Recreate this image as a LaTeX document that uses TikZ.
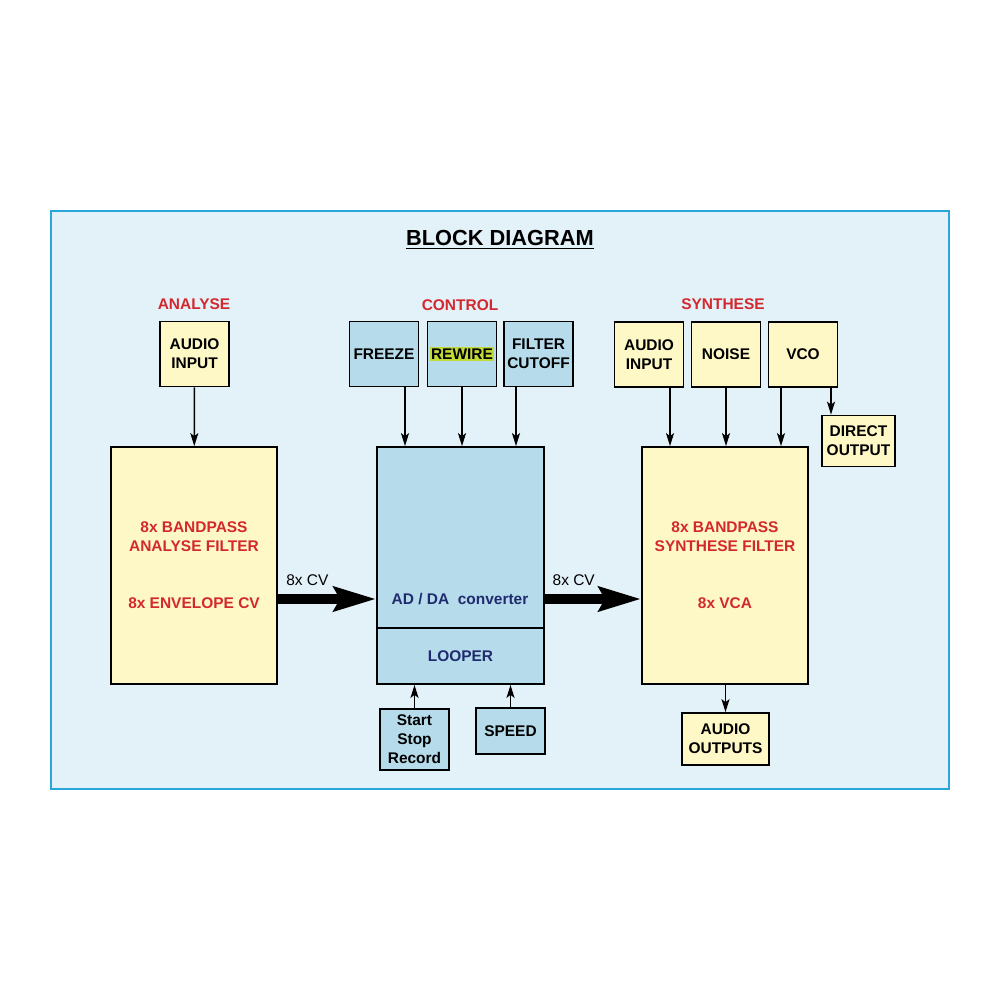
\documentclass[tikz,border=0pt]{standalone}
\usepackage{fontspec}
\setmainfont{Liberation Sans}
\usetikzlibrary{arrows.meta,positioning}

\definecolor{panel}{HTML}{E3F1F8}
\definecolor{frameblue}{HTML}{2AA7DA}
\definecolor{boxyellow}{HTML}{FEF8C6}
\definecolor{boxblue}{HTML}{B6DCEB}
\definecolor{labred}{HTML}{D3282E}
\definecolor{navy}{HTML}{1F2B6E}
\definecolor{rewiregreen}{HTML}{C2DA38}

\begin{document}
\begin{tikzpicture}[
  x=0.2mm, y=-0.2mm,
  >=Latex,
  every node/.style={font=\bfseries\fontsize{8.8}{10.8}\selectfont},
  ybox/.style={draw, line width=1pt, fill=boxyellow, align=center, inner sep=0pt},
  bbox/.style={draw, line width=1pt, fill=boxblue, align=center, inner sep=0pt},
  small/.style={minimum width=13.8mm, minimum height=13mm},
  big/.style={minimum width=33.2mm, minimum height=47.4mm, text=labred},
  grp/.style={text=labred},
  arrow/.style={-{Stealth[length=2.6mm, width=1.6mm, inset=0.6mm]}, line width=0.8pt},
  fat/.style={-{Stealth[length=8.4mm, width=4.8mm, inset=1.2mm]}, line width=1.9mm},
  cvlab/.style={pos=0.3, above=1.7mm, inner sep=0pt, font=\fontsize{8.8}{10}\selectfont}
]
  %--- panel
  \useasboundingbox (0,0) rectangle (1000,1000);
  \draw[frameblue, line width=1pt, fill=panel] (51,211) rectangle (949,789);
  \node[font=\bfseries\fontsize{12.4}{14}\selectfont] (title) at (500,240) {\underline{BLOCK DIAGRAM}};

  %============ ANALYSE ============%
  \node[grp] (analyse) at (194,304) {ANALYSE};
  \node[ybox, small] (ain) at (194.5,354) {AUDIO\\INPUT};
  \node[ybox, big] (afilt) at (194,565.5) {8x BANDPASS\\ANALYSE FILTER\\[7.6mm]8x ENVELOPE CV};
  \draw[arrow] (ain) -- (afilt);

  %============ CONTROL ============%
  \node[grp] (control) at (460,305) {CONTROL};
  \node[bbox, small] (freeze) at (384,354) {FREEZE};
  \node[bbox, small] (rewire) at (462,354) {\setlength\fboxsep{0.8pt}\colorbox{rewiregreen}{REWIRE}};
  \node[bbox, small] (cutoff) at (538.5,354) {FILTER\\CUTOFF};
  \node[bbox, minimum width=33.4mm, minimum height=36.2mm] (conv) at (460.5,537.5) {};
  \node[bbox, minimum width=33.4mm, minimum height=11.2mm, text=navy, below=-1pt of conv] (looper) {LOOPER};
  \node[text=navy] (adda) at (460,599) {AD / DA\ \ converter};
  \node[bbox, minimum width=13.8mm, minimum height=12.2mm] (ssr) at (414.5,739.5) {Start\\Stop\\Record};
  \node[bbox, minimum width=13.8mm, minimum height=9.2mm] (speed) at (510.5,731) {SPEED};

  \draw[arrow] ([xshift=4.2mm]freeze.south) -- ([xshift=4.2mm]freeze.south |- conv.north);
  \draw[arrow] (rewire) -- (rewire |- conv.north);
  \draw[arrow] ([xshift=-4.5mm]cutoff.south) -- ([xshift=-4.5mm]cutoff.south |- conv.north);
  \draw[arrow] (ssr) -- (ssr |- looper.south);
  \draw[arrow] (speed) -- (speed |- looper.south);

  %============ SYNTHESE ============%
  \node[grp] (synthese) at (723,304) {SYNTHESE};
  \node[ybox, small] (sin) at (649,354.5) {AUDIO\\INPUT};
  \node[ybox, small] (noise) at (726,354.5) {NOISE};
  \node[ybox, small] (vco) at (803,354.5) {VCO};
  \node[ybox, minimum width=14.6mm, minimum height=10.2mm] (dirout) at (858.5,441) {DIRECT\\OUTPUT};
  \node[ybox, big] (sfilt) at (725,565.5) {8x BANDPASS\\SYNTHESE FILTER\\[7.6mm]8x VCA};
  \node[ybox, minimum width=17.4mm, minimum height=10.4mm] (aout) at (725.5,739) {AUDIO\\OUTPUTS};

  \draw[arrow] ([xshift=4.2mm]sin.south) -- ([xshift=4.2mm]sin.south |- sfilt.north);
  \draw[arrow] (noise) -- (noise |- sfilt.north);
  \draw[arrow] ([xshift=-4.4mm]vco.south) -- ([xshift=-4.4mm]vco.south |- sfilt.north);
  \draw[arrow] ([xshift=5.6mm]vco.south) -- ([xshift=5.6mm]vco.south |- dirout.north);
  \draw[arrow] (sfilt.south -| aout) -- (aout);

  %============ 8x CV ============%
  \draw[fat] (afilt.east |- adda) -- node[cvlab]{8x CV} (conv.west |- adda);
  \draw[fat] (conv.east |- adda) -- node[cvlab]{8x CV} (sfilt.west |- adda);
\end{tikzpicture}
\end{document}
